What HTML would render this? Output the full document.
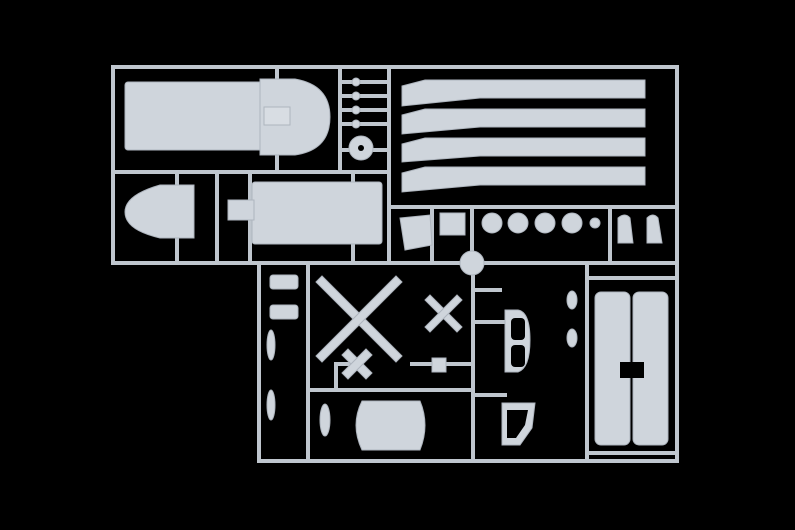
<!DOCTYPE html>
<html><head><meta charset="utf-8"><style>
html,body{margin:0;padding:0;background:#000;width:795px;height:530px;overflow:hidden}
svg{display:block}
</style></head><body>
<svg width="795" height="530" viewBox="0 0 795 530" xmlns="http://www.w3.org/2000/svg">
<rect width="795" height="530" fill="#000"/>
<g stroke="#bfc6ce" stroke-width="4" fill="none" stroke-linecap="square">
  <path d="M113 67 H677 V461 H259 V263 H113 Z"/>
  <line x1="113" y1="263" x2="677" y2="263"/>
  <line x1="113" y1="172" x2="389" y2="172"/>
  <line x1="277" y1="67" x2="277" y2="172"/>
  <line x1="340" y1="67" x2="340" y2="172"/>
  <line x1="389" y1="67" x2="389" y2="263"/>
  <line x1="389" y1="207" x2="677" y2="207"/>
  <line x1="177" y1="172" x2="177" y2="263"/>
  <line x1="217" y1="172" x2="217" y2="263"/>
  <line x1="250" y1="172" x2="250" y2="263"/>
  <line x1="353" y1="172" x2="353" y2="263"/>
  <line x1="432" y1="207" x2="432" y2="263"/>
  <line x1="472" y1="207" x2="472" y2="263"/>
  <line x1="610" y1="207" x2="610" y2="263"/>
  <line x1="308" y1="263" x2="308" y2="461"/>
  <line x1="473" y1="263" x2="473" y2="461"/>
  <line x1="587" y1="263" x2="587" y2="461"/>
  <line x1="308" y1="390" x2="473" y2="390"/>
  <line x1="336" y1="364" x2="336" y2="390"/>
  <line x1="336" y1="364" x2="352" y2="364"/>
  <line x1="412" y1="364" x2="473" y2="364"/>
  <line x1="587" y1="278" x2="677" y2="278"/>
  <line x1="587" y1="453" x2="677" y2="453"/>
  <line x1="340" y1="82" x2="389" y2="82"/>
  <line x1="340" y1="96" x2="389" y2="96"/>
  <line x1="340" y1="110" x2="389" y2="110"/>
  <line x1="340" y1="124" x2="389" y2="124"/>
  <line x1="340" y1="150" x2="389" y2="150"/>
  <line x1="473" y1="322" x2="505" y2="322"/>
  <line x1="473" y1="290" x2="500" y2="290"/>
  <line x1="473" y1="395" x2="505" y2="395"/>
</g>
<g fill="#cfd5dc" stroke="#aeb5be" stroke-width="1">
  <rect x="125" y="82" width="140" height="68" rx="3"/>
  <path d="M260 79 H295 Q330 85 330 117 Q330 150 295 155 H260 Z"/>
  <rect x="264" y="107" width="26" height="18" fill="#d8dde3"/>
  <path d="M194 185 H160 Q125 195 125 212 Q125 230 160 238 H194 Z"/>
  <rect x="252" y="182" width="130" height="62" rx="3"/>
  <rect x="228" y="200" width="26" height="20"/>
  <path d="M402 86 L425 80 H645 V98 H480 L402 106 Z"/>
  <path d="M402 115 L425 109 H645 V127 H480 L402 134 Z"/>
  <path d="M402 144 L425 138 H645 V156 H480 L402 162 Z"/>
  <path d="M402 173 L425 167 H645 V185 H480 L402 192 Z"/>
  <circle cx="356" cy="82" r="4"/><circle cx="356" cy="96" r="4"/>
  <circle cx="356" cy="110" r="4"/><circle cx="356" cy="124" r="4"/>
  <circle cx="361" cy="148" r="12"/>
  <circle cx="492" cy="223" r="10"/><circle cx="518" cy="223" r="10"/>
  <circle cx="545" cy="223" r="10"/><circle cx="572" cy="223" r="10"/>
  <circle cx="595" cy="223" r="5"/>
  <path d="M618 218 Q625 212 630 218 L633 243 H618 Z"/>
  <path d="M647 218 Q653 212 658 218 L662 243 H647 Z"/>
  <path d="M400 218 L430 215 L432 245 L405 250 Z"/>
  <rect x="440" y="213" width="25" height="22"/>
  <circle cx="472" cy="263" r="12"/>
  <path d="M316 282 L322 276 L402 356 L396 362 Z"/>
  <path d="M402 282 L396 276 L316 356 L322 362 Z"/>
  <path d="M425 300 L430 295 L462 327 L457 332 Z"/>
  <path d="M462 300 L457 295 L425 327 L430 332 Z"/>
  <path d="M342 355 L348 349 L372 373 L366 379 Z"/>
  <path d="M372 355 L366 349 L342 373 L348 379 Z"/>
  <rect x="432" y="358" width="14" height="14"/>
  <rect x="270" y="275" width="28" height="14" rx="3"/>
  <rect x="270" y="305" width="28" height="14" rx="3"/>
  <ellipse cx="271" cy="345" rx="4" ry="15"/>
  <ellipse cx="271" cy="405" rx="4" ry="15"/>
  <ellipse cx="325" cy="420" rx="5" ry="16"/>
  <path d="M362 401 H420 Q430 425 420 450 H362 Q350 425 362 401 Z"/>
  <path d="M505 310 H518 Q530 312 530 340 Q530 368 518 372 H505 Z"/>
  <path d="M502 403 H535 L532 428 L520 445 H502 Z"/>
  <ellipse cx="572" cy="300" rx="5" ry="9"/>
  <ellipse cx="572" cy="338" rx="5" ry="9"/>
  <rect x="595" y="292" width="35" height="153" rx="6"/>
  <rect x="633" y="292" width="35" height="153" rx="6"/>
</g>
<g fill="#000">
  <rect x="263" y="274" width="6" height="14"/>
  <rect x="511" y="318" width="14" height="22" rx="4"/>
  <rect x="511" y="345" width="14" height="22" rx="4"/>
  <path d="M507 410 H528 L525 425 L516 438 H507 Z"/>
  <rect x="620" y="362" width="24" height="16"/>
  <circle cx="361" cy="148" r="3"/>
</g>
</svg>
</body></html>
